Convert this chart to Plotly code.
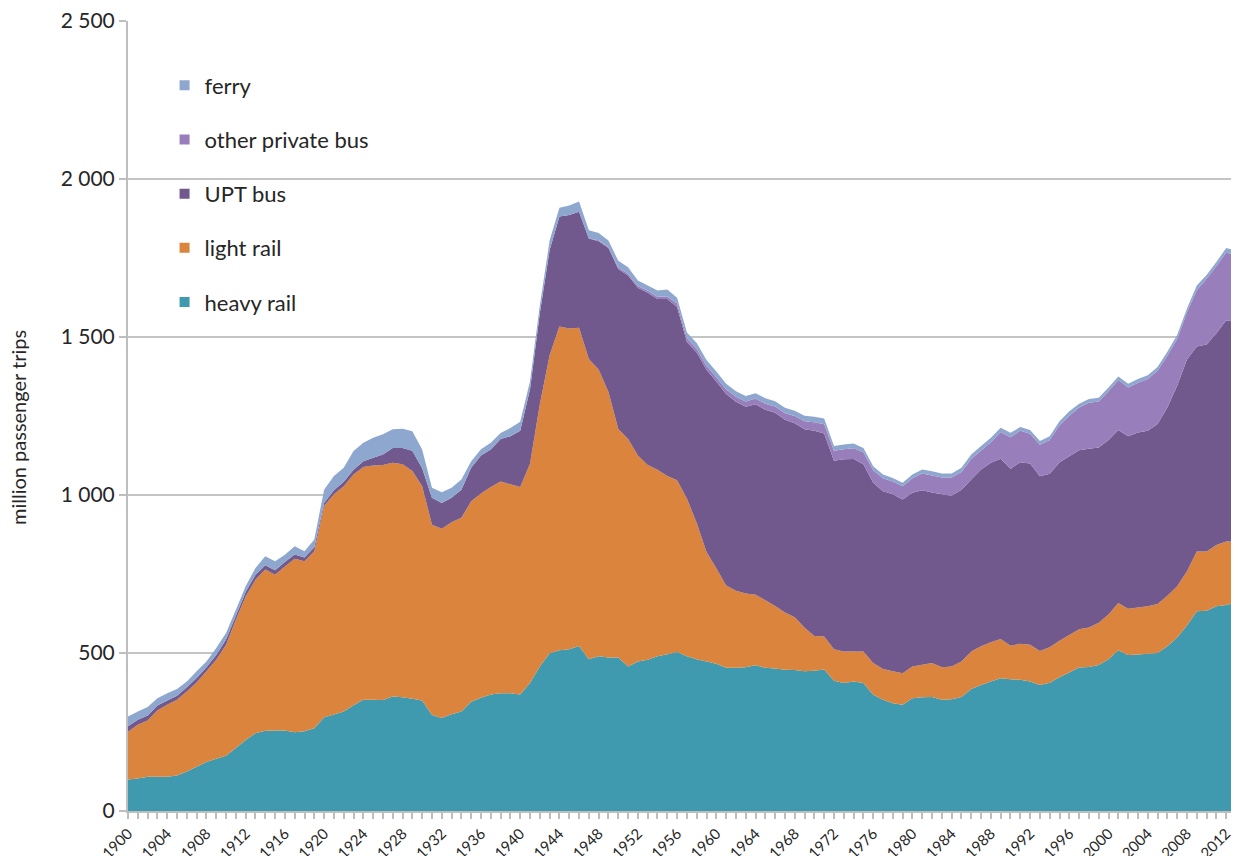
import plotly.graph_objects as go

years = list(range(1900, 2014))

heavy_rail = [100, 103, 108, 108, 108, 112, 125, 140, 155, 165,
              175, 199, 225, 246, 254, 255, 255, 249, 252, 262,
              297, 305, 315, 335, 352, 352, 351, 362, 360, 355,
              350, 304, 294, 306, 315, 346, 358, 369, 373, 373,
              369, 405, 457, 499, 509, 512, 522, 480, 490, 486,
              486, 457, 473, 479, 490, 496, 503, 490, 480, 473,
              466, 453, 453, 455, 461, 453, 451, 447, 446, 442,
              444, 448, 412, 405, 410, 405, 368, 352, 341, 336,
              357, 360, 361, 352, 354, 361, 386, 399, 410, 420,
              417, 415, 410, 399, 406, 423, 438, 454, 456, 462,
              480, 509, 494, 495, 498, 500, 521, 549, 587, 632,
              634, 648, 652, 660]

light_rail = [151, 170, 178, 210, 228, 240, 253, 267, 287, 314,
              351, 406, 454, 486, 510, 493, 519, 549, 538, 560,
              668, 697, 713, 730, 737, 741, 744, 740, 737, 721,
              678, 602, 599, 608, 613, 634, 647, 656, 670, 661,
              656, 694, 830, 943, 1024, 1015, 1007, 950, 907, 840,
              723, 720, 652, 616, 590, 564, 544, 499, 431, 347,
              302, 261, 244, 233, 223, 214, 198, 181, 167, 138,
              110, 104, 100, 100, 95, 100, 100, 97, 101, 100,
              100, 103, 107, 103, 103, 112, 119, 122, 124, 124,
              106, 114, 116, 107, 112, 116, 119, 121, 125, 134,
              142, 149, 146, 149, 150, 155, 160, 162, 172, 189,
              187, 194, 201, 193]

upt_bus = [17, 16, 16, 16, 14, 13, 14, 14, 13, 15,
           17, 13, 14, 16, 14, 14, 14, 14, 12, 13,
           10, 13, 14, 15, 18, 25, 33, 47, 52, 64,
           57, 85, 82, 77, 89, 106, 120, 119, 134, 152,
           178, 236, 288, 333, 348, 359, 367, 382, 406, 456,
           506, 518, 531, 545, 540, 560, 548, 495, 540, 576,
           591, 606, 598, 591, 603, 603, 611, 610, 614, 628,
           649, 643, 596, 608, 609, 592, 571, 563, 560, 550,
           550, 552, 540, 547, 541, 544, 544, 560, 568, 571,
           560, 575, 574, 553, 549, 564, 566, 567, 565, 554,
           552, 548, 546, 554, 555, 570, 596, 635, 670, 649,
           655, 670, 700, 694]

other_private_bus = [0, 0, 0, 0, 0, 0, 0, 0, 0, 0,
                     0, 0, 0, 0, 0, 0, 0, 0, 0, 0,
                     0, 0, 0, 0, 0, 0, 0, 0, 0, 0,
                     0, 0, 0, 0, 0, 0, 0, 0, 0, 0,
                     0, 0, 0, 0, 0, 0, 0, 0, 3, 3,
                     5, 5, 5, 6, 7, 8, 11, 12, 12, 13,
                     14, 15, 16, 17, 18, 19, 20, 21, 23, 25,
                     27, 29, 32, 32, 34, 38, 39, 41, 41, 42,
                     46, 53, 54, 53, 57, 56, 65, 60, 65, 84,
                     100, 99, 94, 100, 107, 118, 128, 135, 146, 146,
                     154, 158, 154, 157, 164, 168, 164, 148, 149, 178,
                     208, 213, 214, 212]

ferry = [31, 26, 27, 23, 23, 21, 18, 21, 18, 22,
         20, 19, 18, 21, 28, 28, 23, 26, 20, 24,
         42, 45, 44, 59, 58, 63, 64, 59, 61, 62,
         59, 32, 34, 32, 32, 21, 20, 21, 19, 26,
         29, 25, 25, 30, 28, 30, 33, 26, 23, 20,
         21, 21, 18, 17, 20, 22, 18, 18, 18, 18,
         18, 17, 17, 17, 17, 17, 17, 17, 17, 18,
         18, 18, 15, 15, 15, 14, 13, 12, 11, 11,
         12, 13, 13, 13, 13, 13, 14, 14, 14, 14,
         14, 12, 12, 12, 12, 12, 14, 12, 12, 12,
         12, 11, 12, 12, 12, 12, 12, 12, 12, 15,
         12, 12, 15, 15]

y_tick_values = [0, 500, 1000, 1500, 2000, 2500]
y_tick_labels = ["0", "500", "1 000", "1 500", "2 000", "2 500"]
x_tick_values = list(range(1900, 2013, 4))
y_title = "million passenger trips"

series = [
    ("heavy rail", heavy_rail, "rgb(63,154,176)"),
    ("light rail", light_rail, "rgb(219,132,61)"),
    ("UPT bus", upt_bus, "rgb(113,89,142)"),
    ("other private bus", other_private_bus, "rgb(152,127,187)"),
    ("ferry", ferry, "rgb(142,167,207)"),
]

FONT = "Lato, 'Open Sans', sans-serif"
fig = go.Figure()

for name, vals, col in series:
    fig.add_trace(go.Scatter(
        x=years, y=vals, name=name, stackgroup="one", mode="none",
        fillcolor=col, showlegend=False, hoverinfo="x+y+name"))

# legend entries (square swatches), top to bottom: ferry ... heavy rail
for name, vals, col in reversed(series):
    fig.add_trace(go.Scatter(
        x=[None], y=[None], name=name, mode="markers",
        marker=dict(symbol="square", size=10, color=col),
        legendgroup=name, showlegend=True))

# the page body has an 8px margin, so the figure is laid out 8px smaller
fig.update_layout(
    width=1231, height=848,
    margin=dict(l=120, r=3, t=13, b=45, autoexpand=False),
    paper_bgcolor="white", plot_bgcolor="white",
    font=dict(family=FONT, color="#262626"),
    legend=dict(x=0.033, y=0.945, xanchor="left", yanchor="top",
                font=dict(size=22, family=FONT, color="#262626"),
                tracegroupgap=22.6, bgcolor="rgba(0,0,0,0)",
                itemsizing="trace"),
    xaxis=dict(range=[1900, 2013], tickvals=x_tick_values,
               tickangle=-45, tickfont=dict(size=15, color="#262626"),
               automargin=False, ticklabeloverflow="allow",
               showgrid=False, zeroline=False,
               showline=True, linecolor="#BEBEBE", linewidth=2,
               ticks="outside", ticklen=6, tickcolor="#BEBEBE", tickwidth=2,
               minor=dict(dtick=1, ticks="outside", ticklen=6,
                          tickcolor="#BEBEBE", tickwidth=2, showgrid=False)),
    yaxis=dict(range=[0, 2500], tickvals=y_tick_values, ticktext=y_tick_labels,
               tickfont=dict(size=21, color="#262626"),
               automargin=False, ticklabeloverflow="allow",
               showgrid=True, gridcolor="#C4C4C4", gridwidth=1.5,
               zeroline=False, showline=True, linecolor="#BEBEBE", linewidth=2,
               mirror=True,
               ticks="outside", ticklen=7, tickcolor="#BEBEBE", tickwidth=2),
    annotations=[dict(text=y_title, textangle=-90, showarrow=False,
                      xref="paper", yref="paper", x=-0.0993, y=0.486,
                      xanchor="center", yanchor="middle",
                      font=dict(size=20, family=FONT, color="#262626"))],
)

fig.write_html("out.html")
